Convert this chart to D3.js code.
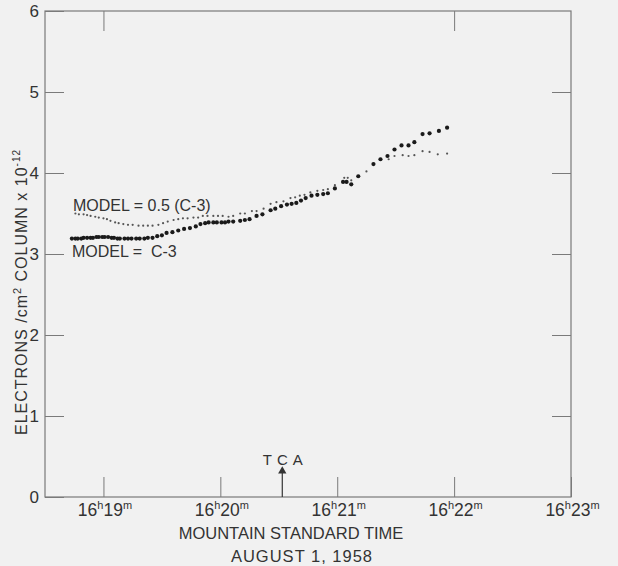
<!DOCTYPE html>
<html>
<head>
<meta charset="utf-8">
<script src="https://cdn.jsdelivr.net/npm/d3@7"></script>
<style>
  body { margin: 0; background: #f1f1f1; }
  svg { display: block; font-family: "Liberation Sans", Arial, sans-serif; }
  .frame, .tick line { stroke: #7a7a7a; }
  .domain { display: none; }
  text { fill: #333; }
</style>
</head>
<body>
<div id="chart"></div>
<script>
// time in minutes after 16h, electrons/cm2 column x 1e-12
const c3Time = [18.73,18.76,18.78,18.81,18.83,18.86,18.89,18.91,18.94,18.96,18.99,19.01,19.04,19.07,19.09,19.12,19.14,19.18,19.21,19.24,19.28,19.31,19.35,19.38,19.42,19.46,19.50,19.54,19.59,19.64,19.69,19.74,19.79,19.83,19.87,19.90,19.94,19.97,20.01,20.04,20.07,20.11,20.17,20.21,20.25,20.31,20.36,20.43,20.47,20.52,20.57,20.61,20.65,20.69,20.73,20.78,20.83,20.88,20.92,20.98,21.05,21.08,21.12,21.18,21.31,21.37,21.43,21.49,21.55,21.61,21.66,21.73,21.79,21.87,21.94];
const c3Value = [3.19,3.19,3.19,3.19,3.20,3.20,3.20,3.20,3.21,3.21,3.21,3.21,3.21,3.20,3.20,3.19,3.19,3.19,3.19,3.19,3.19,3.19,3.19,3.20,3.20,3.22,3.23,3.26,3.27,3.29,3.31,3.32,3.34,3.37,3.38,3.39,3.39,3.39,3.39,3.39,3.40,3.40,3.41,3.42,3.43,3.47,3.49,3.54,3.56,3.59,3.61,3.62,3.63,3.66,3.69,3.72,3.73,3.74,3.75,3.81,3.89,3.89,3.86,3.96,4.11,4.17,4.21,4.29,4.34,4.34,4.38,4.48,4.49,4.52,4.56];

const halfTime = [18.76,18.79,18.83,18.86,18.89,18.93,18.96,19.00,19.03,19.06,19.10,19.13,19.17,19.21,19.25,19.30,19.34,19.38,19.42,19.47,19.51,19.55,19.60,19.64,19.68,19.72,19.77,19.81,19.85,19.89,19.94,19.98,20.02,20.07,20.11,20.17,20.21,20.27,20.31,20.37,20.43,20.48,20.54,20.60,20.64,20.68,20.72,20.77,20.83,20.88,20.92,20.98,21.06,21.09,21.12,21.25,21.44,21.49,21.56,21.61,21.66,21.73,21.79,21.86,21.94];
const halfValue = [3.50,3.49,3.49,3.48,3.47,3.46,3.45,3.44,3.43,3.41,3.39,3.38,3.37,3.36,3.36,3.35,3.35,3.35,3.35,3.36,3.38,3.40,3.42,3.43,3.44,3.44,3.45,3.45,3.47,3.47,3.47,3.47,3.47,3.46,3.47,3.50,3.50,3.53,3.53,3.56,3.62,3.64,3.65,3.69,3.70,3.72,3.73,3.76,3.78,3.79,3.80,3.85,3.94,3.94,3.91,4.02,4.17,4.21,4.22,4.21,4.22,4.27,4.26,4.23,4.24];

const xTicks = [19, 20, 21, 22, 23];
const xTopTicks = [19, 22];
const yTicks = [0, 1, 2, 3, 4, 5, 6];
const tcaTime = 20.53;

const margin = { top: 11, right: 47, bottom: 69, left: 45 };
const width = 618 - margin.left - margin.right;
const height = 566 - margin.top - margin.bottom;

const svg = d3.select("#chart").append("svg")
    .attr("width", 618)
    .attr("height", 566);
const g = svg.append("g")
    .attr("transform", "translate(" + margin.left + "," + margin.top + ")");

const x = d3.scaleLinear().domain([18.5, 23]).range([0, width]);
const y = d3.scaleLinear().domain([0, 6]).range([height, 0]);

// bottom axis, ticks point up into the plot
const xAxis = g.append("g")
    .attr("transform", "translate(0," + height + ")")
    .call(d3.axisBottom(x).tickValues(xTicks).tickSize(-20).tickSizeOuter(0).tickPadding(0).tickFormat(""));
xAxis.selectAll(".tick text").remove();
xAxis.selectAll(".tick").append("text")
    .attr("y", 19)
    .attr("x", 1)
    .attr("text-anchor", "middle")
    .style("font-size", "17.5px")
    .style("fill", "#333")
    .each(function (d) {
        const t = d3.select(this);
        t.append("tspan").text("16");
        t.append("tspan").attr("dy", -7).style("font-size", "11px").text("h");
        t.append("tspan").attr("dy", 7).text(d);
        t.append("tspan").attr("dy", -7).style("font-size", "11px").text("m");
    });

g.append("g")
    .call(d3.axisTop(x).tickValues(xTopTicks).tickSize(-20).tickSizeOuter(0).tickFormat(""));

g.append("g")
    .call(d3.axisLeft(y).tickValues(yTicks).tickSize(-19).tickSizeOuter(0).tickPadding(6).tickFormat(d3.format("d")))
    .selectAll("text")
    .style("font-size", "17px")
    .style("fill", "#333")
    .style("font-family", "Liberation Sans, Arial, sans-serif");

g.append("g")
    .attr("transform", "translate(" + width + ",0)")
    .call(d3.axisRight(y).tickValues([1, 2, 3, 4, 5]).tickSize(-19).tickSizeOuter(0).tickFormat(""));

g.append("rect")
    .attr("class", "frame")
    .attr("width", width)
    .attr("height", height)
    .style("fill", "none")
    .style("stroke-width", 1.2);

// series
const c3Data = c3Time.map((t, i) => ({ t: t, v: c3Value[i] }));
const halfData = halfTime.map((t, i) => ({ t: t, v: halfValue[i] }));

g.selectAll(".halfDot").data(halfData).join("circle")
    .attr("class", "halfDot")
    .attr("cx", d => x(d.t))
    .attr("cy", d => y(d.v))
    .attr("r", 1.1)
    .style("fill", "#555");

g.selectAll(".c3Dot").data(c3Data).join("circle")
    .attr("class", "c3Dot")
    .attr("cx", d => x(d.t))
    .attr("cy", d => y(d.v))
    .attr("r", 2.1)
    .style("fill", "#1a1a1a");

// labels on curves
g.append("text")
    .attr("x", 28).attr("y", 200)
    .style("font-size", "16px")
    .text("MODEL = 0.5 (C-3)");
g.append("text")
    .attr("x", 27).attr("y", 246)
    .style("font-size", "16px")
    .attr("xml:space", "preserve")
    .text("MODEL =  C-3");

// TCA marker
g.append("line")
    .attr("x1", x(tcaTime)).attr("x2", x(tcaTime))
    .attr("y1", height).attr("y2", height - 24)
    .style("stroke", "#333").style("stroke-width", 1.2);
g.append("path")
    .attr("d", d3.symbol(d3.symbolTriangle, 30)())
    .attr("transform", "translate(" + x(tcaTime) + "," + (height - 26) + ")")
    .style("fill", "#333");
g.append("text")
    .attr("x", x(tcaTime) + 3).attr("y", height - 32)
    .attr("text-anchor", "middle")
    .style("font-size", "15px")
    .style("letter-spacing", "5px")
    .text("TCA");

// axis titles
svg.append("text")
    .attr("x", 291).attr("y", 539)
    .attr("text-anchor", "middle")
    .style("font-size", "16.5px")
    .text("MOUNTAIN STANDARD TIME");
svg.append("text")
    .attr("x", 302).attr("y", 562)
    .attr("text-anchor", "middle")
    .style("font-size", "16.5px")
    .style("letter-spacing", "1px")
    .text("AUGUST 1, 1958");

const yTitle = svg.append("text")
    .attr("transform", "translate(27,292) rotate(-90)")
    .attr("text-anchor", "middle")
    .style("font-size", "16px")
    .style("letter-spacing", "1px");
yTitle.append("tspan").text("ELECTRONS /cm");
yTitle.append("tspan").attr("dy", -6).style("font-size", "11px").text("2");
yTitle.append("tspan").attr("dy", 6).text(" COLUMN x 10");
yTitle.append("tspan").attr("dy", -7).style("font-size", "10px").text("-12");
</script>
</body>
</html>
